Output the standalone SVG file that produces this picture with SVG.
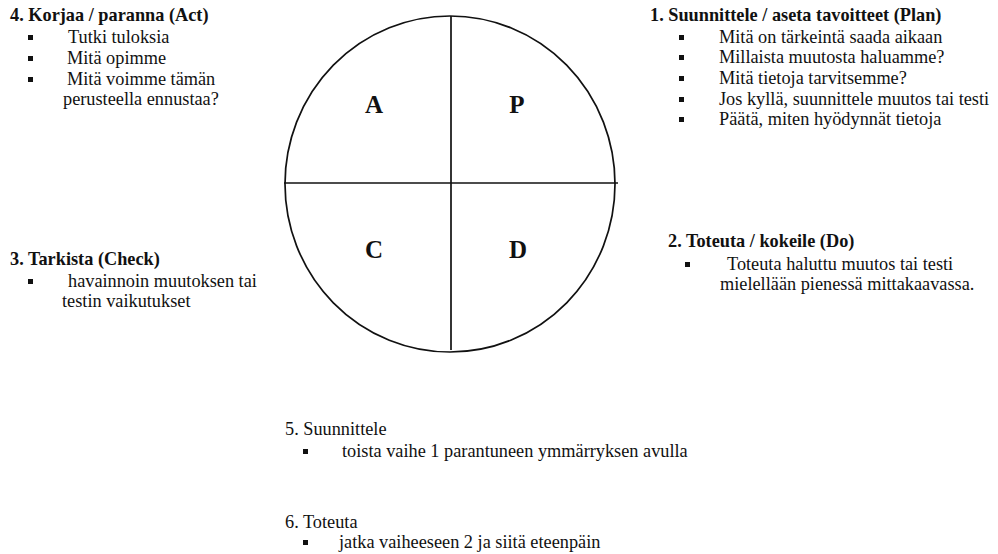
<svg xmlns="http://www.w3.org/2000/svg" width="998" height="554" viewBox="0 0 998 554">
<style>
  text { font-family: "Liberation Serif", "Times New Roman", serif; font-size: 18.3px; fill: #111; }
  .t { font-weight: bold; }
  .q { font-weight: bold; font-size: 25px; text-anchor: middle; }
  .b { fill: #111; }
  .ln { stroke: #111; stroke-width: 1.7; fill: none; }
</style>
<rect width="998" height="554" fill="#fff"/>
<g id="pdca-circle">
  <ellipse class="ln" cx="450" cy="184" rx="165" ry="168"/>
  <text class="q" x="374" y="113">A</text>
  <text class="q" x="517" y="113">P</text>
  <text class="q" x="374" y="258">C</text>
  <text class="q" x="518" y="258">D</text>
</g>
<g id="connectors">
  <line class="ln" x1="284" y1="183" x2="618" y2="183"/>
  <line class="ln" x1="451" y1="16" x2="451" y2="350"/>
</g>
<g id="act">
  <text class="t" x="10" y="21">4. Korjaa / paranna (Act)</text>
  <rect class="b" x="28" y="35" width="5" height="5"/>
  <text x="68" y="43">Tutki tuloksia</text>
  <rect class="b" x="28" y="56" width="5" height="5"/>
  <text x="67" y="64">Mitä opimme</text>
  <rect class="b" x="28" y="77" width="5" height="5"/>
  <text x="67" y="85">Mitä voimme tämän</text>
  <text x="63" y="105">perusteella ennustaa?</text>
</g>
<g id="plan">
  <text class="t" x="650" y="21">1. Suunnittele / aseta tavoitteet (Plan)</text>
  <rect class="b" x="679" y="35" width="5" height="5"/>
  <text x="719" y="43">Mitä on tärkeintä saada aikaan</text>
  <rect class="b" x="679" y="55" width="5" height="5"/>
  <text x="719" y="63">Millaista muutosta haluamme?</text>
  <rect class="b" x="679" y="76" width="5" height="5"/>
  <text x="719" y="84">Mitä tietoja tarvitsemme?</text>
  <rect class="b" x="679" y="97" width="5" height="5"/>
  <text x="719" y="105">Jos kyllä, suunnittele muutos tai testi</text>
  <rect class="b" x="679" y="117" width="5" height="5"/>
  <text x="719" y="125">Päätä, miten hyödynnät tietoja</text>
</g>
<g id="check">
  <text class="t" x="10" y="265">3. Tarkista (Check)</text>
  <rect class="b" x="28" y="279" width="5" height="5"/>
  <text x="68" y="287">havainnoin muutoksen tai</text>
  <text x="62" y="307">testin vaikutukset</text>
</g>
<g id="do">
  <text class="t" x="668" y="247">2. Toteuta / kokeile (Do)</text>
  <rect class="b" x="685" y="262" width="5" height="5"/>
  <text x="727" y="270">Toteuta haluttu muutos tai testi</text>
  <text x="720" y="290">mielellään pienessä mittakaavassa.</text>
</g>
<g id="plan-again">
  <text x="285" y="435">5. Suunnittele</text>
  <rect class="b" x="303" y="449" width="5" height="5"/>
  <text x="342" y="457">toista vaihe 1 parantuneen ymmärryksen avulla</text>
</g>
<g id="do-again">
  <text x="285" y="528">6. Toteuta</text>
  <rect class="b" x="303" y="540" width="5" height="5"/>
  <text x="339" y="548">jatka vaiheeseen 2 ja siitä eteenpäin</text>
</g>
</svg>
